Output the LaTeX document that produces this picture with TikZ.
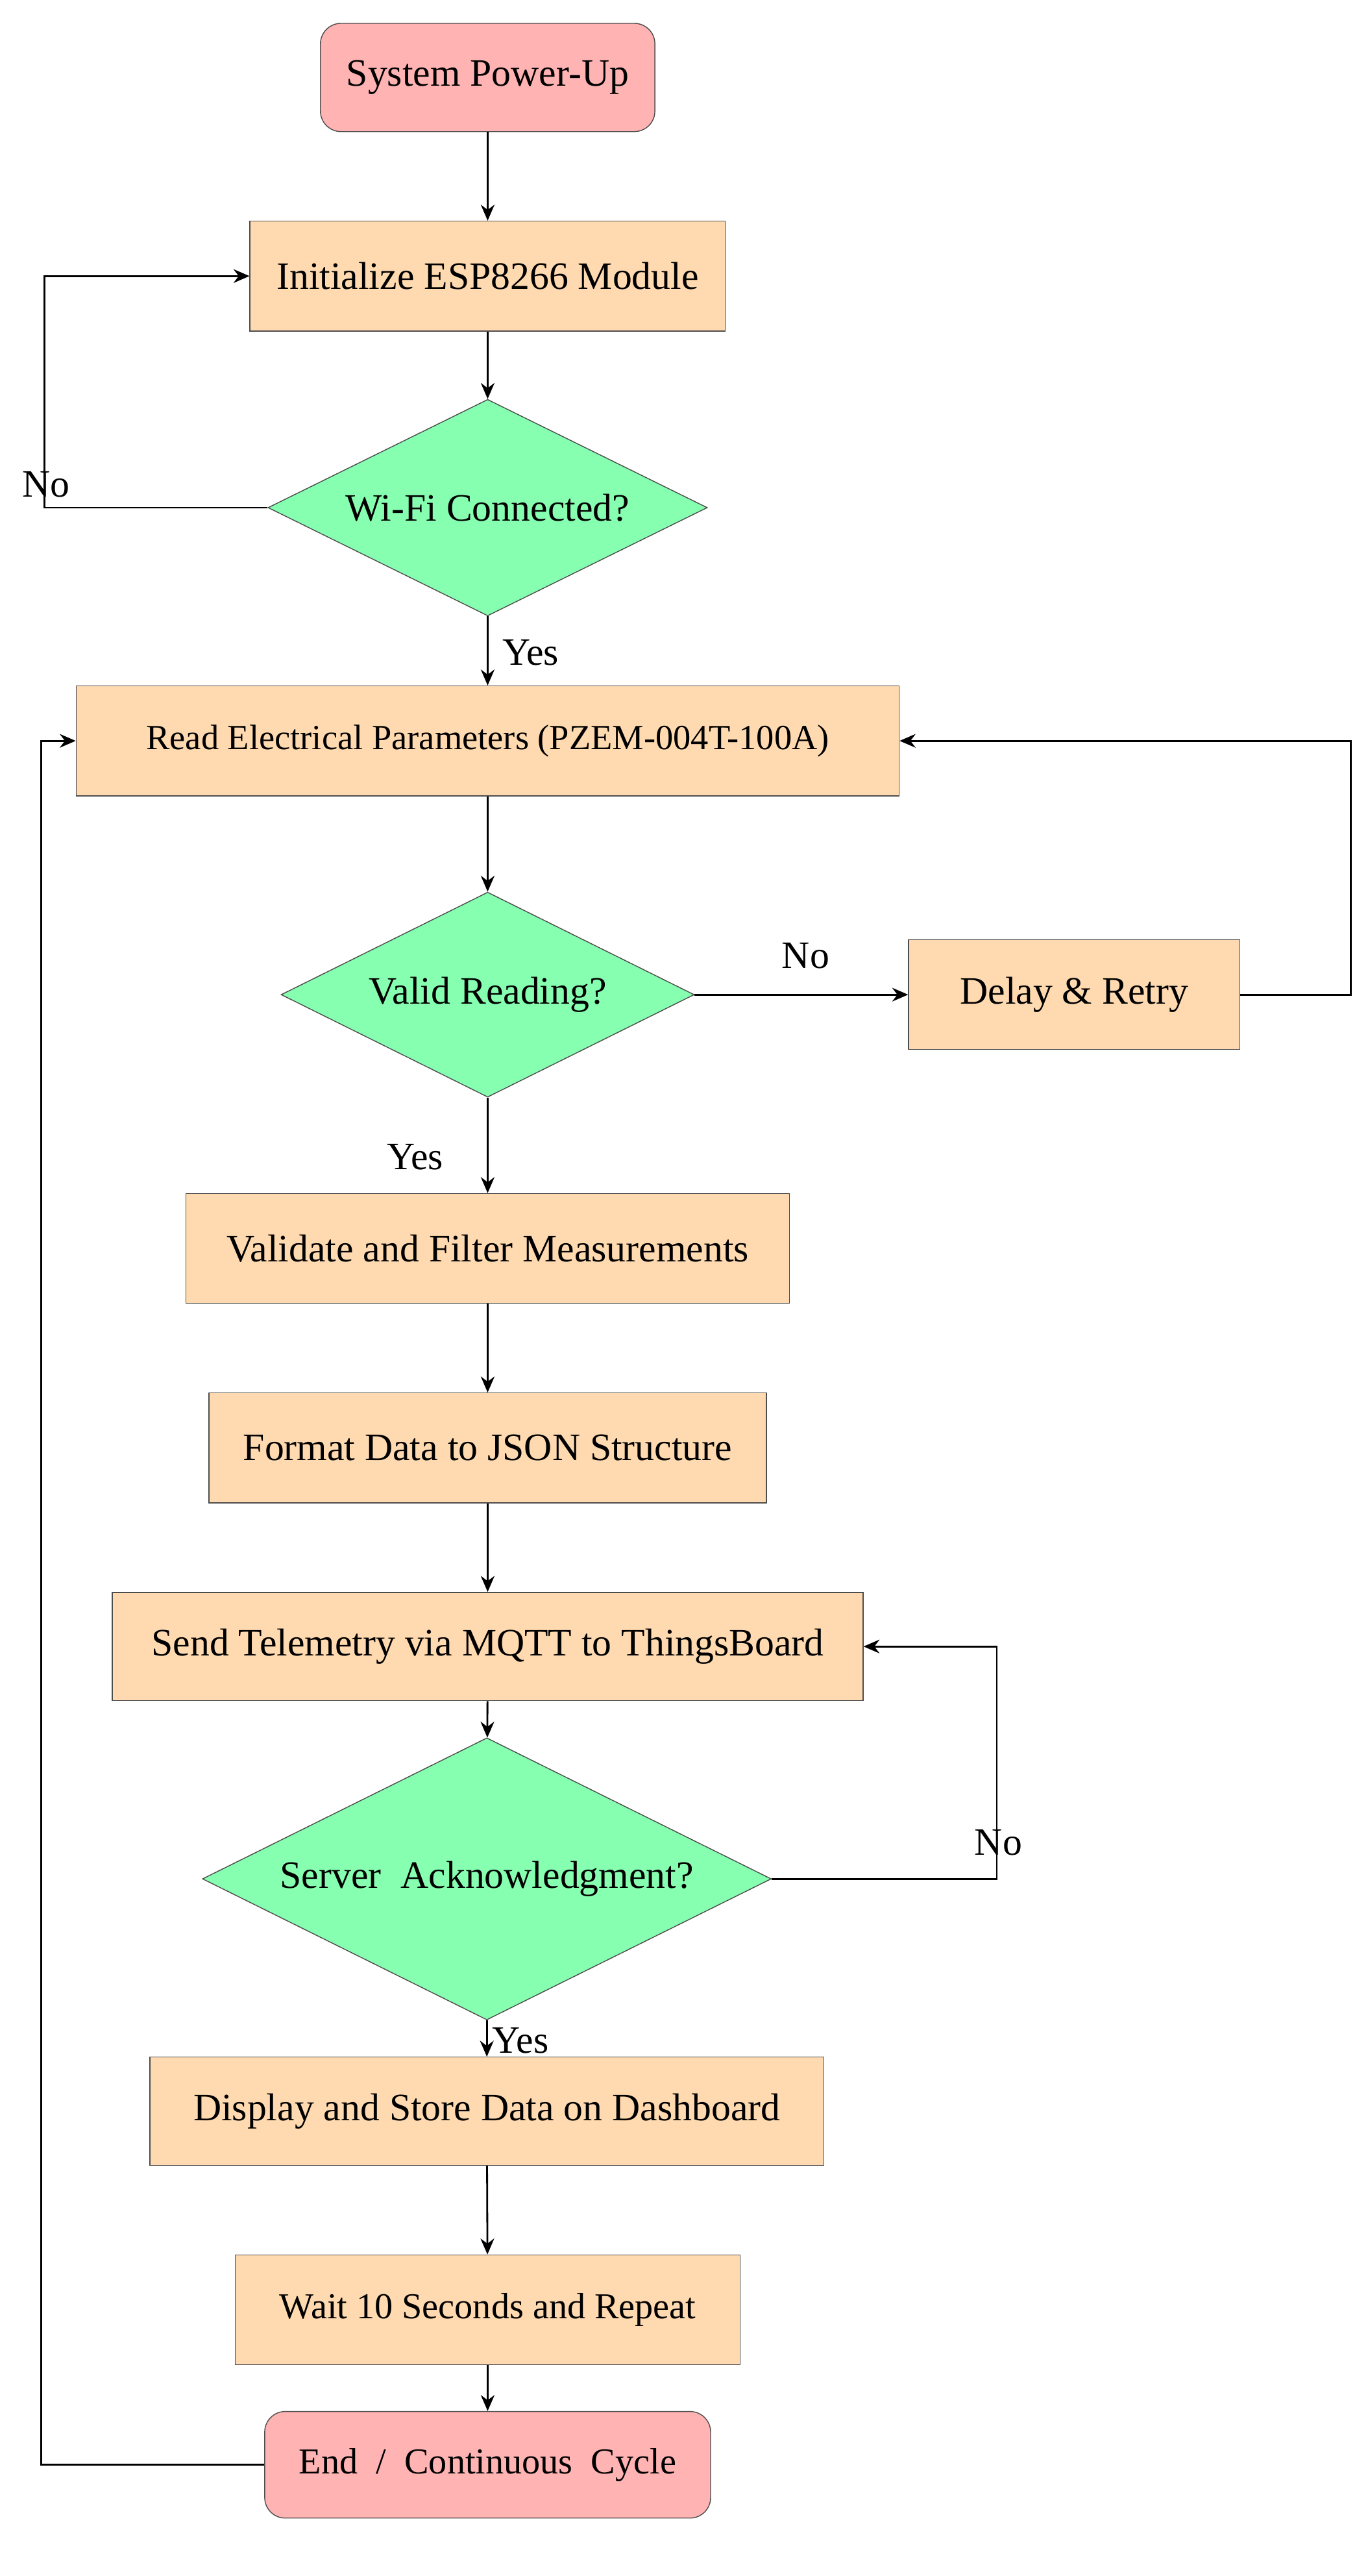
\documentclass[tikz,border=0pt]{standalone}
\usepackage{fontspec}
\setmainfont{Liberation Serif}
\usetikzlibrary{shapes.geometric,arrows.meta}
\definecolor{pinkf}{HTML}{FFB3B3}
\definecolor{procf}{HTML}{FFDAB0}
\definecolor{decf}{HTML}{86FFB0}
\begin{document}
\begin{tikzpicture}[x=0.025386cm,y=-0.025386cm,
  txt/.style={font=\fontsize{17}{20}\selectfont},
  term/.style={draw=black!70,fill=pinkf,rounded corners=9pt,inner sep=0pt,txt},
  proc/.style={draw=black!70,fill=procf,inner sep=0pt,txt},
  dec/.style={draw=black!70,fill=decf,diamond,inner sep=0pt,txt},
  arr/.style={draw,thick,-{Stealth[length=7pt,width=6pt]}},
  lab/.style={txt}]
\useasboundingbox (0,0) rectangle (830,1563);
\node[term,minimum width=204*0.71887pt,minimum height=66*0.71887pt] (start) at (296,47) {System Power-Up};
\node[proc,minimum width=290*0.71887pt,minimum height=67*0.71887pt] (init) at (296,167.5) {Initialize ESP8266 Module};
\node[dec,minimum width=268*0.71887pt,minimum height=132*0.71887pt,aspect=2.03] (wifi) at (296,308) {};
\node[txt] at (296,308) {Wi-Fi Connected?};
\node[proc,minimum width=502*0.71887pt,minimum height=67*0.71887pt,font=\fontsize{15.5}{18}\selectfont] (read) at (296,449.5) {Read Electrical Parameters (PZEM-004T-100A)};
\node[dec,minimum width=252*0.71887pt,minimum height=125*0.71887pt,aspect=2.02] (valid) at (296,603.5) {};
\node[txt] at (296,603.5) {Valid Reading?};
\node[proc,minimum width=202*0.71887pt,minimum height=67*0.71887pt] (delay) at (652,603.5) {Delay \& Retry};
\node[proc,minimum width=368*0.71887pt,minimum height=67*0.71887pt] (validate) at (296,757.5) {Validate and Filter Measurements};
\node[proc,minimum width=340*0.71887pt,minimum height=67*0.71887pt] (format) at (296,878.5) {Format Data to JSON Structure};
\node[proc,minimum width=458*0.71887pt,minimum height=66*0.71887pt] (send) at (296,999) {Send Telemetry via MQTT to ThingsBoard};
\node[dec,minimum width=347*0.71887pt,minimum height=172*0.71887pt,aspect=2.02] (server) at (295.5,1140) {};
\node[txt] at (295.5,1140) {Server\ \ Acknowledgment?};
\node[proc,minimum width=411*0.71887pt,minimum height=66*0.71887pt] (display) at (295.5,1281) {Display and Store Data on Dashboard};
\node[proc,minimum width=308*0.71887pt,minimum height=67*0.71887pt,font=\fontsize{16}{19}\selectfont] (wait) at (296,1401.5) {Wait 10 Seconds and Repeat};
\node[term,minimum width=272*0.71887pt,minimum height=65*0.71887pt,font=\fontsize{16}{19}\selectfont] (end) at (296,1495.5) {End\ \ /\ \ Continuous\ \ Cycle};
\coordinate (c1) at (27,308);
\coordinate (c2) at (27,167.5);
\coordinate (c3) at (820,603.5);
\coordinate (c4) at (820,449.5);
\coordinate (c5) at (605,1140);
\coordinate (c6) at (605,999);
\coordinate (c7) at (25,1495.5);
\coordinate (c8) at (25,449.5);
\draw[arr] (start) -- (init);
\draw[arr] (init) -- (wifi);
\draw[arr] (wifi.west) -- (c1) -- (c2) -- (init.west);
\draw[arr] (wifi) -- (read);
\draw[arr] (read) -- (valid);
\draw[arr] (valid.east) -- (delay.west);
\draw[arr] (delay.east) -- (c3) -- (c4) -- (read.east);
\draw[arr] (valid) -- (validate);
\draw[arr] (validate) -- (format);
\draw[arr] (format) -- (send);
\draw[arr] (send) -- (server);
\draw[arr] (server.east) -- (c5) -- (c6) -- (send.east);
\draw[arr] (server) -- (display);
\draw[arr] (display) -- (wait);
\draw[arr] (wait) -- (end);
\draw[arr] (end.west) -- (c7) -- (c8) -- (read.west);
\node[lab] (l1) at (28,294) {No};
\node[lab] (l2) at (322,396) {Yes};
\node[lab] (l3) at (489,580) {No};
\node[lab] (l4) at (252,702) {Yes};
\node[lab] (l5) at (606,1118) {No};
\node[lab] (l6) at (316,1238) {Yes};
\end{tikzpicture}
\end{document}
